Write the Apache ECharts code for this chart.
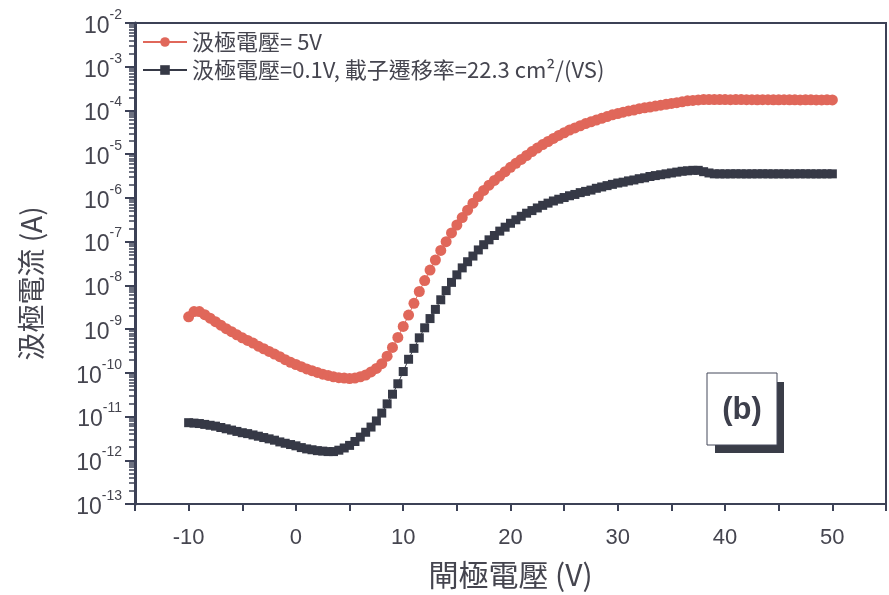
<!DOCTYPE html>
<html><head><meta charset="utf-8">
<script src="https://cdn.jsdelivr.net/npm/echarts@6/dist/echarts.min.js"></script>
<style>html,body{margin:0;padding:0;background:#fff}#c{width:889px;height:595px}</style>
</head><body><div id="c"></div>
<script>
// Gate voltage (V), 0.5 V steps
const gateVoltage = [-10, -9.5, -9, -8.5, -8, -7.5, -7, -6.5, -6, -5.5, -5, -4.5, -4, -3.5, -3, -2.5, -2, -1.5, -1, -0.5,
  0, 0.5, 1, 1.5, 2, 2.5, 3, 3.5, 4, 4.5, 5, 5.5, 6, 6.5, 7, 7.5, 8, 8.5, 9, 9.5,
  10, 10.5, 11, 11.5, 12, 12.5, 13, 13.5, 14, 14.5, 15, 15.5, 16, 16.5, 17, 17.5, 18, 18.5, 19, 19.5,
  20, 20.5, 21, 21.5, 22, 22.5, 23, 23.5, 24, 24.5, 25, 25.5, 26, 26.5, 27, 27.5, 28, 28.5, 29, 29.5,
  30, 30.5, 31, 31.5, 32, 32.5, 33, 33.5, 34, 34.5, 35, 35.5, 36, 36.5, 37, 37.5, 38, 38.5, 39, 39.5,
  40, 40.5, 41, 41.5, 42, 42.5, 43, 43.5, 44, 44.5, 45, 45.5, 46, 46.5, 47, 47.5, 48, 48.5, 49, 49.5, 50];
// Drain current (A), Vd = 5V
const drainCurrent5V = [1.91e-9, 2.51e-9, 2.51e-9, 2.14e-9, 1.78e-9, 1.48e-9, 1.23e-9, 1.02e-9, 8.71e-10, 7.41e-10, 6.31e-10, 5.50e-10, 4.79e-10, 4.07e-10, 3.55e-10, 3.09e-10, 2.69e-10, 2.34e-10, 2.00e-10, 1.74e-10,
  1.55e-10, 1.38e-10, 1.23e-10, 1.12e-10, 1.02e-10, 9.33e-11, 8.71e-11, 8.13e-11, 7.76e-11, 7.59e-11, 7.41e-11, 7.59e-11, 8.13e-11, 8.91e-11, 1.05e-10, 1.26e-10, 1.62e-10, 2.40e-10, 3.80e-10, 6.46e-10,
  1.15e-9, 2.09e-9, 3.89e-9, 7.24e-9, 1.29e-8, 2.24e-8, 3.80e-8, 6.31e-8, 1.00e-7, 1.58e-7, 2.40e-7, 3.55e-7, 5.25e-7, 7.59e-7, 1.07e-6, 1.48e-6, 1.95e-6, 2.51e-6, 3.16e-6, 3.98e-6,
  5.01e-6, 6.17e-6, 7.59e-6, 9.33e-6, 1.15e-5, 1.38e-5, 1.66e-5, 1.95e-5, 2.29e-5, 2.69e-5, 3.09e-5, 3.55e-5, 3.98e-5, 4.47e-5, 5.01e-5, 5.50e-5, 6.03e-5, 6.61e-5, 7.24e-5, 7.94e-5,
  8.51e-5, 9.12e-5, 9.77e-5, 1.02e-4, 1.10e-4, 1.15e-4, 1.20e-4, 1.26e-4, 1.32e-4, 1.38e-4, 1.45e-4, 1.51e-4, 1.58e-4, 1.66e-4, 1.70e-4, 1.74e-4, 1.78e-4, 1.78e-4, 1.78e-4, 1.77e-4,
  1.77e-4, 1.76e-4, 1.77e-4, 1.77e-4, 1.76e-4, 1.76e-4, 1.75e-4, 1.76e-4, 1.76e-4, 1.75e-4, 1.75e-4, 1.76e-4, 1.75e-4, 1.75e-4, 1.74e-4, 1.75e-4, 1.75e-4, 1.74e-4, 1.74e-4, 1.75e-4, 1.74e-4];
// Drain current (A), Vd = 0.1V
const drainCurrent01V = [7.24e-12, 7.08e-12, 6.92e-12, 6.61e-12, 6.31e-12, 6.03e-12, 5.62e-12, 5.25e-12, 4.90e-12, 4.57e-12, 4.27e-12, 4.07e-12, 3.80e-12, 3.55e-12, 3.31e-12, 3.09e-12, 2.88e-12, 2.63e-12, 2.45e-12, 2.29e-12,
  2.14e-12, 1.95e-12, 1.82e-12, 1.74e-12, 1.66e-12, 1.62e-12, 1.58e-12, 1.58e-12, 1.70e-12, 1.91e-12, 2.19e-12, 2.69e-12, 3.39e-12, 4.37e-12, 5.75e-12, 7.94e-12, 1.20e-11, 1.95e-11, 3.24e-11, 5.62e-11,
  1.07e-10, 2.04e-10, 3.63e-10, 6.31e-10, 1.07e-9, 1.74e-9, 2.82e-9, 4.68e-9, 7.59e-9, 1.17e-8, 1.74e-8, 2.51e-8, 3.47e-8, 4.68e-8, 6.46e-8, 8.51e-8, 1.10e-7, 1.38e-7, 1.74e-7, 2.14e-7,
  2.63e-7, 3.16e-7, 3.80e-7, 4.47e-7, 5.13e-7, 5.89e-7, 6.76e-7, 7.59e-7, 8.51e-7, 9.33e-7, 1.02e-6, 1.12e-6, 1.20e-6, 1.32e-6, 1.41e-6, 1.51e-6, 1.66e-6, 1.78e-6, 1.91e-6, 2.04e-6,
  2.19e-6, 2.29e-6, 2.45e-6, 2.57e-6, 2.75e-6, 2.88e-6, 3.09e-6, 3.24e-6, 3.39e-6, 3.55e-6, 3.72e-6, 3.89e-6, 4.07e-6, 4.17e-6, 4.27e-6, 4.27e-6, 3.98e-6, 3.72e-6, 3.55e-6, 3.55e-6,
  3.54e-6, 3.55e-6, 3.56e-6, 3.55e-6, 3.54e-6, 3.55e-6, 3.55e-6, 3.56e-6, 3.55e-6, 3.54e-6, 3.55e-6, 3.55e-6, 3.54e-6, 3.55e-6, 3.56e-6, 3.55e-6, 3.55e-6, 3.54e-6, 3.55e-6, 3.55e-6, 3.55e-6];
const seriesNames = ['汲極電壓= 5V', '汲極電壓=0.1V, 載子遷移率=22.3 cm²/(VS)'];
const xAxisTitle = '閘極電壓 (V)';
const yAxisTitle = '汲極電流 (A)';
const panelLabel = '(b)';
const yMinExp = -13, yMaxExp = -2;

// log-spaced minor tick positions (in exponent units) for the y axis
const minorTickExp = [];
for (let e = yMinExp; e < yMaxExp; e++) {
  for (let k = 2; k <= 9; k++) minorTickExp.push(e + Math.log10(k));
}

const axisColor = '#3c4156';
const textColor = '#45454f';
const latin = '"Liberation Sans", Arial, sans-serif';
const narrow = '"Liberation Sans Narrow", "Liberation Sans", Arial, sans-serif';
const cjk = '"Noto Sans CJK TC", "Noto Sans CJK SC", sans-serif';

const chart = echarts.init(document.getElementById('c'), null, {renderer: 'canvas'});
chart.setOption({
  animation: false,
  backgroundColor: '#ffffff',
  legend: {
    orient: 'vertical', left: 137, top: 26,
    itemWidth: 44, itemHeight: 12, itemGap: 6,
    textStyle: {fontSize: 22, color: textColor, fontFamily: cjk},
    data: seriesNames
  },
  grid: {left: 135, top: 23, width: 760, height: 484, show: true, borderColor: axisColor, borderWidth: 2, backgroundColor: 'transparent'},
  xAxis: {
    type: 'value', min: -15, max: 55, interval: 5,
    axisLine: {show: true, onZero: false, lineStyle: {color: axisColor, width: 2}},
    axisTick: {show: true, length: 7, lineStyle: {color: axisColor, width: 2}},
    axisLabel: {formatter: v => (v % 10 === 0 ? String(v) : ''), margin: 23, fontSize: 22, color: textColor, fontFamily: narrow},
    splitLine: {show: false},
    name: xAxisTitle, nameLocation: 'middle', nameGap: 56,
    nameTextStyle: {fontSize: 30, color: textColor, fontFamily: cjk}
  },
  yAxis: [{
    type: 'log', logBase: 10, min: Math.pow(10, yMinExp), max: Math.pow(10, yMaxExp), interval: 1,
    position: 'left',
    axisLine: {show: true, onZero: false, lineStyle: {color: axisColor, width: 3}},
    axisTick: {show: true, inside: false, length: 10, lineStyle: {color: axisColor, width: 2}},
    splitLine: {show: false},
    axisLabel: {
      margin: 13,
      formatter: v => '{b|10}{s|' + Math.round(Math.log10(v)) + '}',
      rich: {
        b: {fontSize: 23, color: textColor, fontFamily: latin, verticalAlign: 'bottom', lineHeight: 30},
        s: {fontSize: 14, color: textColor, fontFamily: latin, verticalAlign: 'top'}
      }
    },
    name: yAxisTitle, nameLocation: 'middle', nameGap: 90, nameRotate: 90,
    nameTextStyle: {fontSize: 28, color: textColor, fontFamily: cjk, padding: [0, 40, 0, 0]}
  }, {
    type: 'value', min: yMinExp, max: yMaxExp, position: 'left', offset: 0,
    axisLine: {show: false, onZero: false},
    axisTick: {show: true, inside: false, length: 6, customValues: minorTickExp, lineStyle: {color: axisColor, width: 1.5}},
    axisLabel: {show: false},
    splitLine: {show: false}
  }],
  graphic: [
    {type: 'rect', shape: {x: 715, y: 382, width: 69, height: 71}, style: {fill: '#3a3d48'}, z: 10},
    {type: 'rect', shape: {x: 707, y: 373, width: 70, height: 72}, style: {fill: '#ffffff', stroke: '#44485a', lineWidth: 1}, z: 11},
    {type: 'text', x: 742, y: 410, z: 12, style: {text: panelLabel, font: 'bold 31px "Liberation Sans", Arial', fill: '#3d3f4c', align: 'center', verticalAlign: 'middle'}}
  ],
  series: [
    {
      type: 'line', name: seriesNames[0], yAxisIndex: 0,
      data: gateVoltage.map((x, i) => [x, drainCurrent5V[i]]),
      symbol: 'circle', symbolSize: 11,
      itemStyle: {color: '#e0675a'}, lineStyle: {color: '#e0675a', width: 1}
    },
    {
      type: 'line', name: seriesNames[1], yAxisIndex: 0,
      data: gateVoltage.map((x, i) => [x, drainCurrent01V[i]]),
      symbol: 'rect', symbolSize: 9,
      itemStyle: {color: '#363946'}, lineStyle: {color: '#363946', width: 1}
    }
  ]
});
</script></body></html>
